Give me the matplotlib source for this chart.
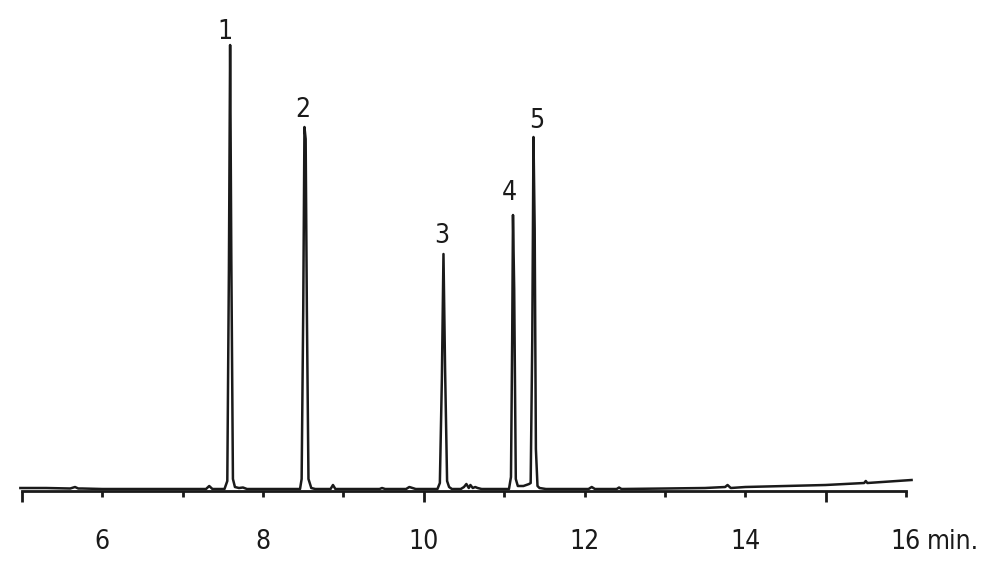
import numpy as np
import matplotlib
matplotlib.use("Agg")
import matplotlib.pyplot as plt

plt.rcParams['font.family'] = ['DejaVu Sans']
plt.rcParams['font.stretch'] = 'condensed'

# chromatogram trace (time in min, signal in arbitrary units)
time = [4.98, 5.30, 5.60, 5.66, 5.70, 5.75, 6.00, 7.00, 7.29, 7.33, 7.37, 7.52,
        7.555, 7.575, 7.59, 7.605, 7.625, 7.65, 7.70, 7.75, 7.80,
        8.46, 8.48, 8.50, 8.515, 8.53, 8.545, 8.565, 8.60, 8.65,
        8.84, 8.87, 8.90, 9.45, 9.48, 9.52, 9.78, 9.82, 9.86, 9.90,
        10.17, 10.20, 10.225, 10.245, 10.265, 10.29, 10.315, 10.35,
        10.46, 10.50, 10.53, 10.56, 10.58, 10.61, 10.64, 10.67, 10.72,
        11.06, 11.085, 11.10, 11.11, 11.125, 11.145, 11.17, 11.24, 11.31, 11.33,
        11.35, 11.365, 11.38, 11.395, 11.415, 11.44, 11.52,
        12.05, 12.09, 12.13, 12.40, 12.43, 12.46, 13.00, 13.50, 13.75, 13.78, 13.82,
        14.00, 14.50, 15.00, 15.48, 15.50, 15.52, 16.07]
signal = [1, 1, 0.5, 2, 0.5, 0.5, 0, 0, 0, 3, 0, 0,
          8, 220, 444, 230, 10, 2, 1, 1.5, 0,
          0, 10, 180, 362, 350, 180, 10, 1, 0,
          0, 4, 0, 0, 1, 0, 0, 2, 1, 0,
          0, 6, 110, 235, 120, 8, 2, 0,
          0, 2, 5, 1, 4, 1, 2, 1, 0,
          0, 12, 150, 274, 200, 10, 3, 3, 5, 6,
          150, 352, 260, 40, 3, 1, 0,
          0, 2, 0, 0, 1.5, 0, 0.5, 1, 2, 4, 1,
          2, 3, 4, 6, 8, 6, 9]

# peak numbers and where they sit (time, signal at text baseline)
peak_names = ['1', '2', '3', '4', '5']
label_x = [7.53, 8.49, 10.22, 11.06, 11.40]
label_y = [450, 372, 246, 289, 361]

fig = plt.figure(figsize=(9.9, 5.72), dpi=100)
ax = fig.add_axes([0.0222, 0.1416, 0.8929, 0.8234])

ax.plot(time, signal, color='#1a1a1a', linewidth=1.8, clip_on=False, solid_joinstyle='round')

for name, x, y in zip(peak_names, label_x, label_y):
    ax.text(x, y, name, ha='center', va='baseline', fontsize=19, color='#1a1a1a')

ax.set_xlim(5, 16)
ax.set_ylim(-2, 469)

for side in ['top', 'right', 'left']:
    ax.spines[side].set_visible(False)
ax.spines['bottom'].set_linewidth(2)
ax.spines['bottom'].set_color('#1a1a1a')
ax.set_yticks([])

ticks = np.arange(5, 17)
ax.set_xticks(ticks)
ax.set_xticklabels([str(t) if t % 2 == 0 else '' for t in ticks], fontsize=19, color='#1a1a1a')
ax.tick_params(axis='x', direction='out', width=2, color='#1a1a1a', pad=24)
for t, tick in zip(ticks, ax.xaxis.get_major_ticks()):
    tick.tick1line.set_markersize(8 if t % 5 == 0 else 4.5)

ax.text(16.26, -60, 'min.', ha='left', va='baseline', fontsize=19, color='#1a1a1a', clip_on=False)

fig.savefig('out.png', dpi=100)
